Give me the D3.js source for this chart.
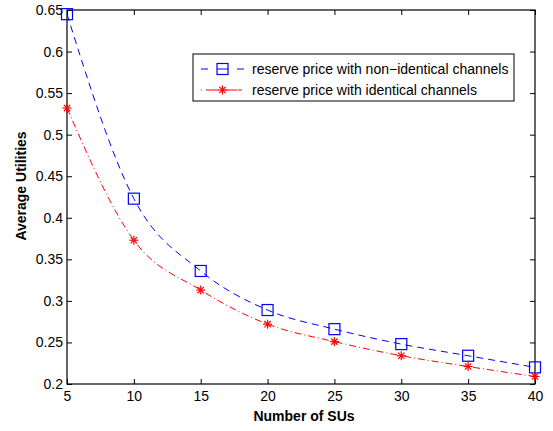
<!DOCTYPE html>
<html><head><meta charset="utf-8">
<script src="https://cdn.jsdelivr.net/npm/d3@7"></script>
<style>body{margin:0;background:#fff}svg{display:block}text{font-family:"Liberation Sans",Arial,sans-serif}</style>
</head><body>
<script>
const suCounts = [5, 10, 15, 20, 25, 30, 35, 40];
const nonIdentical = [0.645, 0.423, 0.336, 0.289, 0.266, 0.248, 0.234, 0.220];
const identical = [0.532, 0.373, 0.313, 0.272, 0.251, 0.234, 0.221, 0.209];
const xTicks = [5, 10, 15, 20, 25, 30, 35, 40];
const yTicks = [0.2, 0.25, 0.3, 0.35, 0.4, 0.45, 0.5, 0.55, 0.6, 0.65];
const seriesNames = ["reserve price with non\u2212identical channels", "reserve price with identical channels"];

const W = 553, H = 431;
const m = {l: 67, r: 18, t: 10, b: 47};
const svg = d3.select("body").append("svg").attr("width", W).attr("height", H);
const x = d3.scaleLinear().domain([5, 40]).range([m.l, W - m.r]);
const y = d3.scaleLinear().domain([0.2, 0.65]).range([H - m.b, m.t]);

const fmt = d => d3.format("")(+d.toFixed(2));
function styleAxis(g){ g.select(".domain").remove(); g.selectAll("line").attr("stroke","#000"); g.selectAll("text").attr("font-size",14).attr("fill","#000"); }
svg.append("g").attr("transform",`translate(0,${H-m.b})`).call(d3.axisBottom(x).tickValues(xTicks).tickSize(-5).tickPadding(7)).call(styleAxis);
svg.append("g").attr("transform",`translate(${m.l},0)`).call(d3.axisLeft(y).tickValues(yTicks).tickSize(-5).tickPadding(4).tickFormat(fmt)).call(styleAxis);
svg.append("g").attr("transform",`translate(0,${m.t})`).call(d3.axisTop(x).tickValues(xTicks).tickSize(-5).tickFormat("")).call(styleAxis);
svg.append("g").attr("transform",`translate(${W-m.r},0)`).call(d3.axisRight(y).tickValues(yTicks).tickSize(-5).tickFormat("")).call(styleAxis);
svg.append("rect").attr("x",m.l).attr("y",m.t).attr("width",W-m.r-m.l).attr("height",H-m.b-m.t).attr("fill","none").attr("stroke","#000").attr("stroke-width",1.2);

const line = d3.line().x((d,i)=>x(suCounts[i])).y(d=>y(d)).curve(d3.curveMonotoneX);
svg.append("path").datum(nonIdentical).attr("d",line).attr("fill","none").attr("stroke","#0000ff").attr("stroke-dasharray","7,5");
svg.append("path").datum(identical).attr("d",line).attr("fill","none").attr("stroke","#ff0000").attr("stroke-dasharray","7,3,1,3");

function square(g, cx, cy){ g.append("rect").attr("x",cx-5.5).attr("y",cy-5.5).attr("width",11).attr("height",11).attr("fill","none").attr("stroke","#0000ff").attr("stroke-width",1.2); }
function star(g, cx, cy){
  const r=4.5;
  [[r,0],[0,r],[r*0.7,r*0.7],[r*0.7,-r*0.7]].forEach(([a,b])=>{g.append("line").attr("x1",cx-a).attr("y1",cy-b).attr("x2",cx+a).attr("y2",cy+b).attr("stroke","#ff0000").attr("stroke-width",1.2);});
}
nonIdentical.forEach((v,i)=>square(svg, x(suCounts[i]), y(v)));
identical.forEach((v,i)=>star(svg, x(suCounts[i]), y(v)));

// legend
const lg = svg.append("g");
lg.append("rect").attr("x",193).attr("y",54).attr("width",321).attr("height",47).attr("fill","#fff").attr("stroke","#000");
lg.append("line").attr("x1",201).attr("x2",244).attr("y1",69).attr("y2",69).attr("stroke","#0000ff").attr("stroke-dasharray","7,9,11,9,7");
square(lg, 222.5, 69);
lg.append("line").attr("x1",201).attr("x2",244).attr("y1",90).attr("y2",90).attr("stroke","#ff0000").attr("stroke-dasharray","1,4,12,3,1,3,12");
star(lg, 222.5, 90);
lg.append("text").attr("x",252).attr("y",74).attr("font-size",14).text(seriesNames[0]);
lg.append("text").attr("x",252).attr("y",95).attr("font-size",14).text(seriesNames[1]);

svg.append("text").attr("x",304).attr("y",421).attr("text-anchor","middle").attr("font-size",14).attr("font-weight","bold").text("Number of SUs");
svg.append("text").attr("transform",`translate(26,186) rotate(-90)`).attr("text-anchor","middle").attr("font-size",14).attr("font-weight","bold").text("Average Utilities");
</script>
</body></html>
